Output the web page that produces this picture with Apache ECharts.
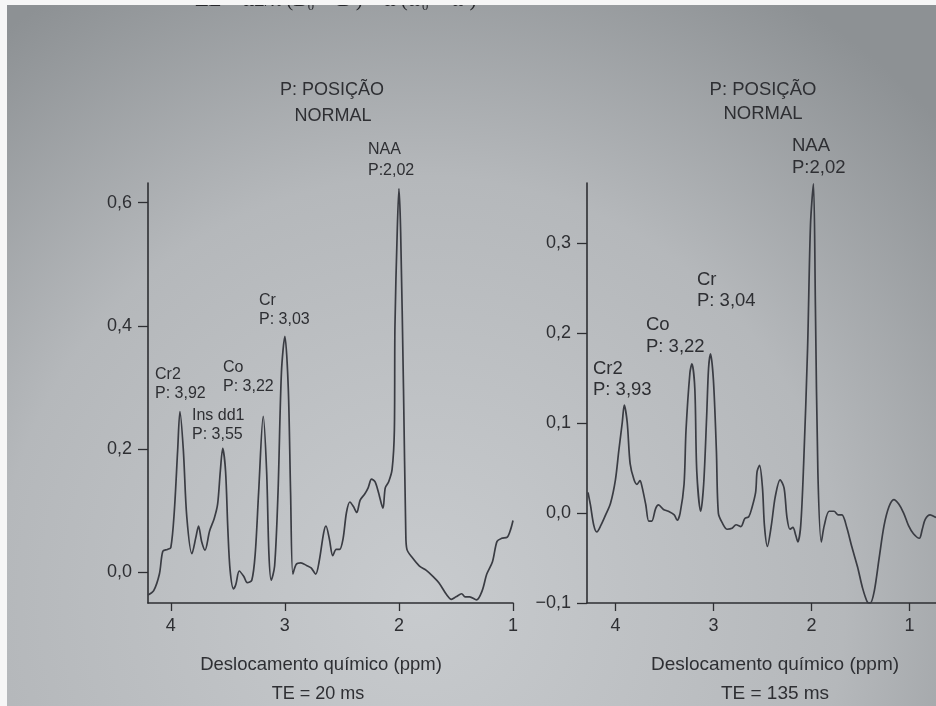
<!DOCTYPE html>
<html>
<head>
<meta charset="utf-8">
<script src="https://cdn.jsdelivr.net/npm/echarts@6/dist/echarts.min.js"></script>
<style>html,body{margin:0;padding:0;background:#fff}#c{width:936px;height:706px}</style>
</head>
<body>
<div id="c"></div>
<script>
// ---- Data: TE = 20 ms (left spectrum) ----
const ppm20 = [4.20,4.15,4.10,4.07,4.03,4.00,3.97,3.94,3.92,3.89,3.86,3.815,3.78,3.757,3.73,3.70,3.66,3.62,3.59,3.566,3.545,3.52,3.50,3.48,3.45,3.43,3.40,3.36,3.33,3.29,3.26,3.23,3.19,3.16,3.14,3.12,3.09,3.06,3.03,3.00,2.97,2.95,2.93,2.90,2.86,2.81,2.77,2.73,2.70,2.66,2.64,2.61,2.58,2.55,2.52,2.49,2.46,2.43,2.40,2.37,2.34,2.30,2.27,2.24,2.21,2.18,2.14,2.12,2.09,2.06,2.04,2.035,2.015,2.00,1.985,1.96,1.94,1.93,1.88,1.82,1.76,1.70,1.65,1.58,1.54,1.50,1.45,1.42,1.38,1.32,1.27,1.23,1.18,1.14,1.10,1.05,1.02,1.00];
const amp20 = [-0.037,-0.030,-0.003,0.034,0.037,0.040,0.097,0.198,0.261,0.198,0.090,0.030,0.057,0.075,0.050,0.036,0.067,0.087,0.110,0.164,0.201,0.164,0.070,0.003,-0.027,-0.020,0.002,-0.007,-0.017,-0.013,0.030,0.130,0.253,0.164,0.030,-0.013,0.010,0.130,0.325,0.383,0.298,0.130,-0.003,0.013,0.015,0.011,0.007,-0.003,0.017,0.064,0.075,0.054,0.027,0.037,0.037,0.054,0.097,0.114,0.107,0.097,0.117,0.127,0.137,0.151,0.147,0.130,0.104,0.137,0.147,0.167,0.231,0.399,0.553,0.623,0.553,0.298,0.064,0.037,0.023,0.010,0.003,-0.007,-0.017,-0.037,-0.044,-0.040,-0.035,-0.040,-0.040,-0.045,-0.030,-0.003,0.017,0.050,0.055,0.057,0.070,0.084];

// ---- Data: TE = 135 ms (right spectrum) ----
const ppm135 = [4.28,4.255,4.22,4.19,4.15,4.10,4.05,4.00,3.966,3.93,3.91,3.88,3.85,3.81,3.78,3.75,3.73,3.69,3.66,3.63,3.59,3.56,3.51,3.46,3.40,3.37,3.34,3.30,3.28,3.24,3.22,3.19,3.17,3.13,3.10,3.07,3.05,3.03,3.00,2.97,2.95,2.91,2.86,2.81,2.77,2.72,2.68,2.64,2.61,2.57,2.555,2.53,2.50,2.48,2.45,2.41,2.37,2.32,2.28,2.25,2.22,2.19,2.16,2.14,2.11,2.08,2.04,2.01,1.98,1.96,1.935,1.90,1.87,1.82,1.77,1.73,1.69,1.64,1.59,1.53,1.48,1.43,1.40,1.36,1.31,1.26,1.21,1.16,1.11,1.06,1.01,0.96,0.90,0.87,0.84,0.79,0.73];
const amp135 = [0.023,0.009,-0.014,-0.021,-0.014,-0.002,0.011,0.037,0.069,0.101,0.120,0.101,0.055,0.037,0.032,0.036,0.030,0.009,-0.009,-0.009,0.005,0.009,0.004,0.002,-0.002,-0.008,0.000,0.032,0.092,0.156,0.166,0.138,0.046,0.002,0.032,0.106,0.161,0.177,0.147,0.069,0.000,-0.011,-0.018,-0.017,-0.013,-0.015,-0.006,-0.004,0.005,0.023,0.046,0.053,0.028,-0.014,-0.037,-0.014,0.018,0.037,0.028,-0.005,-0.018,-0.016,-0.025,-0.032,-0.014,0.055,0.183,0.321,0.366,0.229,0.046,-0.032,-0.014,0.002,0.002,-0.002,-0.002,-0.016,-0.037,-0.060,-0.083,-0.099,-0.100,-0.087,-0.050,-0.014,0.007,0.015,0.010,0.000,-0.014,-0.023,-0.028,-0.018,-0.007,-0.002,-0.005];

// ---- Tick labels ----
const xTicks = [4, 3, 2, 1];
const yTicks20 = [0, 0.2, 0.4, 0.6];
const yTicks135 = [-0.1, 0, 0.1, 0.2, 0.3];

// ---- Texts ----
const titleLines = ['P: POSIÇÃO', 'NORMAL'];
const xAxisTitle = 'Deslocamento químico (ppm)';
const teLeft = 'TE = 20 ms';
const teRight = 'TE = 135 ms';
const peaks20 = [['NAA','P:2,02'],['Cr','P: 3,03'],['Co','P: 3,22'],['Cr2','P: 3,92'],['Ins dd1','P: 3,55']];
const peaks135 = [['NAA','P:2,02'],['Cr','P: 3,04'],['Co','P: 3,22'],['Cr2','P: 3,93']];
const topEquation = 'ΔE = ħ2/π (B\u2080 \u2212 B\u2032) = ħ (ω\u2080 \u2212 ω\u2032)';

const FONT = '"Liberation Sans", Arial, sans-serif';
const SERIF = '"Liberation Serif", "DejaVu Serif", serif';
const INK = '#2e2f33';
const fmt = v => (v < 0 ? '\u2212' : '') + Math.abs(v).toFixed(1).replace('.', ',');

function zip(a, b) { return a.map((v, i) => [v, b[i]]); }

const chart = echarts.init(document.getElementById('c'), null, {renderer: 'canvas'});

function xAxisCfg(idx, min, max) {
  return {
    type: 'value', gridIndex: idx, inverse: true, min: min, max: max,
    axisLine: {show: true, onZero: false, lineStyle: {color: INK, width: 1.6}},
    axisTick: {show: true, customValues: xTicks, length: 8, inside: false, lineStyle: {color: INK, width: 1.3}},
    axisLabel: {customValues: xTicks, color: INK, fontFamily: FONT, fontSize: 18, margin: 14, formatter: v => String(Math.round(v))},
    splitLine: {show: false}
  };
}
function yAxisCfg(idx, min, max, ticks) {
  return {
    type: 'value', gridIndex: idx, min: min, max: max,
    axisLine: {show: true, onZero: false, lineStyle: {color: INK, width: 1.6}},
    axisTick: {show: true, customValues: ticks, length: 10, lineStyle: {color: INK, width: 1.3}},
    axisLabel: {customValues: ticks, color: INK, fontFamily: FONT, fontSize: 18, margin: 16, formatter: fmt},
    splitLine: {show: false}
  };
}

function txt(x, y, s, size, align, font) {
  return {type: 'text', x: x, y: y, style: {text: s, fill: INK, font: size + 'px ' + (font || FONT), textAlign: align || 'left', textVerticalAlign: 'middle'}, silent: true};
}

const graphics = [
  // cut-off equation line at the very top of the photographed page
  {type: 'text', x: 195, y: 11, style: {text: topEquation, fill: '#26272b', font: '21px ' + SERIF, textAlign: 'left', textVerticalAlign: 'bottom'}, silent: true},
  // photo borders
  {type: 'rect', shape: {x: 0, y: 0, width: 936, height: 5}, style: {fill: '#f6f6f6'}, silent: true},
  {type: 'rect', shape: {x: 0, y: 0, width: 7, height: 706}, style: {fill: '#f6f6f6'}, silent: true},
  // left titles
  txt(332, 90, titleLines[0], 18, 'center'),
  txt(333, 116, titleLines[1], 18, 'center'),
  txt(321, 665, xAxisTitle, 18.5, 'center'),
  txt(318, 694, teLeft, 18, 'center'),
  // left peak labels
  txt(368, 150, peaks20[0][0], 16), txt(368, 171, peaks20[0][1], 16),
  txt(259, 301, peaks20[1][0], 16), txt(259, 320, peaks20[1][1], 16),
  txt(223, 368, peaks20[2][0], 16), txt(223, 387, peaks20[2][1], 16),
  txt(155, 375, peaks20[3][0], 16), txt(155, 394, peaks20[3][1], 16),
  txt(192, 416, peaks20[4][0], 16), txt(192, 435, peaks20[4][1], 16),
  // right titles
  txt(763, 90, titleLines[0], 18.5, 'center'),
  txt(763, 114, titleLines[1], 18.5, 'center'),
  txt(775, 665, xAxisTitle, 19, 'center'),
  txt(775, 694, teRight, 19, 'center'),
  // right peak labels
  txt(792, 146, peaks135[0][0], 18.5), txt(792, 168, peaks135[0][1], 18.5),
  txt(697, 280, peaks135[1][0], 18.5), txt(697, 301, peaks135[1][1], 18.5),
  txt(646, 325, peaks135[2][0], 18.5), txt(646, 347, peaks135[2][1], 18.5),
  txt(593, 369, peaks135[3][0], 18.5), txt(593, 390, peaks135[3][1], 18.5)
];

chart.setOption({
  backgroundColor: {
    type: 'radial', x: 0.45, y: 0.85, r: 1.0,
    colorStops: [{offset: 0, color: '#c8cbce'}, {offset: 0.6, color: '#b5b8bb'}, {offset: 1, color: '#8d9194'}]
  },
  animation: false,
  grid: [
    {left: 148, right: 423, top: 183, bottom: 103, containLabel: false},
    {left: 587, right: 0, top: 183, bottom: 103, containLabel: false}
  ],
  xAxis: [xAxisCfg(0, 1, 4.2), xAxisCfg(1, 0.73, 4.29)],
  yAxis: [yAxisCfg(0, -0.05, 0.632, yTicks20), yAxisCfg(1, -0.1, 0.367, yTicks135)],
  series: [
    {type: 'line', xAxisIndex: 0, yAxisIndex: 0, data: zip(ppm20, amp20), showSymbol: false, smooth: 0.3,
     lineStyle: {color: '#3a3c43', width: 1.7}, clip: false},
    {type: 'line', xAxisIndex: 1, yAxisIndex: 1, data: zip(ppm135, amp135), showSymbol: false, smooth: 0.3,
     lineStyle: {color: '#3a3c43', width: 1.7}, clip: false}
  ],
  graphic: graphics
});
</script>
</body>
</html>
